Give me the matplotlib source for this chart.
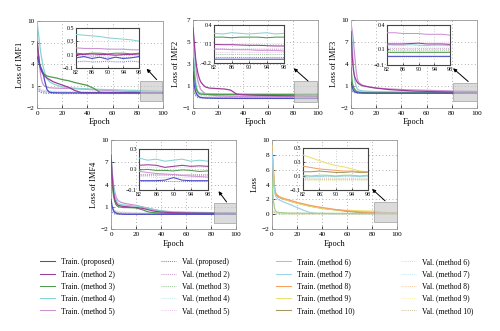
import matplotlib
matplotlib.use('Agg')
import matplotlib.pyplot as plt
from matplotlib.patches import Rectangle

plt.rcParams['font.family'] = ['Liberation Serif', 'DejaVu Serif']

epochs = [0, 1, 2, 3, 4, 5, 6, 8, 10, 13, 16, 20, 25, 30, 35, 40, 45, 50, 60, 70, 80,
          82, 84, 86, 88, 90, 92, 94, 96, 98, 100]

names = ['proposed', 'method 2', 'method 3', 'method 4', 'method 5',
         'method 6', 'method 7', 'method 8', 'method 9', 'method 10']
train_colors = ['#4b4bc3', '#9b3c97', '#4f9a4f', '#86d3d3', '#cf93d3',
                '#9fd48a', '#9fd3ea', '#f4a063', '#ece070', '#a3965e']
val_colors = ['#7f7fdc', '#c79cc6', '#9cc79c', '#c9ecec', '#ecc9ef',
              '#cdeac0', '#cfe9f5', '#f9cfae', '#f6efb5', '#cdc5a5']

# IMF1: proposed, method 2..5
imf1_train = [
    [5.1, 4.6, 4.0, 3.6, 3.2, 2.7, 1.8, 0.5, 0.15, 0.09, 0.08, 0.07, 0.07, 0.07, 0.06, 0.06, 0.06, 0.06, 0.05, 0.05, 0.05,
     0.05, 0.07, 0.04, 0.06, 0.03, 0.06, 0.04, 0.05, 0.07, 0.04],
    [7.1, 5.5, 4.0, 3.3, 2.9, 2.6, 2.4, 2.1, 1.9, 1.6, 1.4, 1.15, 0.85, 0.4, 0.12, 0.11, 0.11, 0.11, 0.1, 0.1, 0.1,
     0.10, 0.10, 0.11, 0.10, 0.10, 0.09, 0.10, 0.10, 0.11, 0.10],
    [7.0, 5.5, 4.2, 3.4, 3.0, 2.8, 2.6, 2.4, 2.3, 2.2, 2.1, 1.9, 1.75, 1.5, 1.3, 1.1, 0.7, 0.15, 0.13, 0.12, 0.12,
     0.12, 0.11, 0.12, 0.12, 0.11, 0.12, 0.12, 0.11, 0.12, 0.11],
    [10.0, 8.5, 7.0, 5.6, 4.5, 3.6, 2.9, 2.0, 1.6, 1.3, 1.1, 0.9, 0.8, 0.72, 0.66, 0.62, 0.58, 0.55, 0.5, 0.45, 0.41,
     0.40, 0.39, 0.38, 0.37, 0.35, 0.34, 0.33, 0.32, 0.30, 0.29],
    [8.3, 6.0, 3.8, 2.4, 1.6, 1.2, 1.0, 0.85, 0.78, 0.74, 0.72, 0.7, 0.68, 0.65, 0.6, 0.55, 0.5, 0.45, 0.38, 0.3, 0.22,
     0.20, 0.19, 0.19, 0.19, 0.18, 0.18, 0.18, 0.17, 0.17, 0.16],
]
imf1_val = [
    [0.6, 0.4, 0.25, 0.15, 0.1, 0.06, 0.04, 0.02, 0.01, 0.0, 0.0, -0.01, -0.01, -0.01, -0.01, -0.01, -0.01, -0.01, -0.01, -0.01, -0.01,
     -0.01, 0.0, -0.01, -0.01, 0.0, -0.01, -0.01, 0.0, -0.01, -0.01],
    [0.9, 0.7, 0.5, 0.4, 0.32, 0.27, 0.24, 0.2, 0.17, 0.15, 0.13, 0.12, 0.11, 0.1, 0.09, 0.08, 0.08, 0.07, 0.07, 0.07, 0.06,
     0.06, 0.06, 0.07, 0.06, 0.06, 0.06, 0.05, 0.06, 0.06, 0.05],
    [0.7, 0.55, 0.45, 0.38, 0.33, 0.3, 0.28, 0.25, 0.23, 0.21, 0.19, 0.17, 0.15, 0.14, 0.13, 0.12, 0.11, 0.1, 0.1, 0.1, 0.09,
     0.09, 0.1, 0.09, 0.09, 0.1, 0.09, 0.09, 0.1, 0.09, 0.09],
    [1.2, 0.9, 0.7, 0.6, 0.52, 0.47, 0.44, 0.4, 0.37, 0.34, 0.32, 0.3, 0.28, 0.27, 0.26, 0.25, 0.24, 0.23, 0.22, 0.21, 0.2,
     0.2, 0.2, 0.19, 0.19, 0.19, 0.18, 0.18, 0.18, 0.17, 0.17],
    [1.0, 0.8, 0.6, 0.48, 0.4, 0.35, 0.31, 0.27, 0.24, 0.21, 0.19, 0.17, 0.16, 0.15, 0.14, 0.13, 0.13, 0.12, 0.12, 0.11, 0.11,
     0.11, 0.11, 0.11, 0.1, 0.1, 0.1, 0.1, 0.1, 0.1, 0.1],
]

# IMF2
imf2_train = [
    [2.3, 1.0, 0.5, 0.25, 0.1, 0.0, -0.05, -0.08, -0.1, -0.11, -0.12, -0.13, -0.13, -0.13, -0.14, -0.14, -0.14, -0.14, -0.14, -0.14, -0.14,
     -0.14, -0.14, -0.14, -0.14, -0.14, -0.14, -0.14, -0.14, -0.14, -0.14],
    [6.3, 5.0, 3.6, 2.7, 2.1, 1.7, 1.4, 1.1, 0.9, 0.8, 0.78, 0.75, 0.72, 0.62, 0.25, 0.2, 0.17, 0.15, 0.13, 0.11, 0.1,
     0.095, 0.09, 0.09, 0.085, 0.08, 0.08, 0.075, 0.07, 0.07, 0.065],
    [3.5, 2.0, 1.0, 0.6, 0.4, 0.3, 0.26, 0.24, 0.23, 0.22, 0.22, 0.21, 0.21, 0.21, 0.21, 0.21, 0.21, 0.21, 0.21, 0.21, 0.21,
     0.21, 0.21, 0.20, 0.21, 0.21, 0.21, 0.20, 0.21, 0.21, 0.21],
    [5.2, 3.0, 1.5, 0.8, 0.5, 0.4, 0.35, 0.32, 0.3, 0.3, 0.29, 0.29, 0.28, 0.28, 0.28, 0.28, 0.27, 0.27, 0.27, 0.27, 0.27,
     0.27, 0.26, 0.28, 0.27, 0.26, 0.27, 0.28, 0.26, 0.27, 0.28],
    [6.0, 4.5, 3.0, 2.0, 1.4, 1.0, 0.7, 0.45, 0.3, 0.2, 0.15, 0.1, 0.08, 0.06, 0.05, 0.04, 0.03, 0.03, 0.02, 0.02, 0.02,
     0.02, 0.02, 0.01, 0.01, 0.01, 0.0, 0.0, 0.0, -0.01, -0.01],
]
imf2_val = [
    [0.8, 0.4, 0.15, 0.0, -0.05, -0.07, -0.08, -0.09, -0.09, -0.1, -0.1, -0.1, -0.1, -0.1, -0.1, -0.1, -0.1, -0.1, -0.1, -0.1, -0.1,
     -0.1, -0.1, -0.1, -0.1, -0.1, -0.1, -0.1, -0.1, -0.1, -0.1],
    [1.5, 1.0, 0.6, 0.4, 0.3, 0.22, 0.18, 0.14, 0.11, 0.09, 0.07, 0.06, 0.05, 0.04, 0.04, 0.03, 0.03, 0.03, 0.03, 0.02, 0.02,
     0.02, 0.02, 0.02, 0.02, 0.02, 0.02, 0.02, 0.02, 0.02, 0.02],
    [0.9, 0.5, 0.25, 0.1, 0.02, -0.02, -0.04, -0.05, -0.05, -0.06, -0.06, -0.06, -0.06, -0.06, -0.06, -0.06, -0.06, -0.06, -0.06, -0.06, -0.06,
     -0.06, -0.06, -0.06, -0.06, -0.06, -0.06, -0.06, -0.06, -0.06, -0.06],
    [1.2, 0.7, 0.4, 0.25, 0.18, 0.15, 0.13, 0.12, 0.12, 0.11, 0.11, 0.11, 0.11, 0.11, 0.11, 0.11, 0.11, 0.11, 0.11, 0.11, 0.11,
     0.11, 0.11, 0.11, 0.11, 0.11, 0.11, 0.11, 0.11, 0.11, 0.11],
    [1.3, 0.8, 0.45, 0.25, 0.12, 0.05, 0.0, -0.02, -0.03, -0.03, -0.03, -0.03, -0.03, -0.03, -0.03, -0.03, -0.03, -0.03, -0.03, -0.03, -0.03,
     -0.03, -0.03, -0.03, -0.03, -0.03, -0.03, -0.03, -0.03, -0.03, -0.03],
]

# IMF3
imf3_train = [
    [1.5, 0.8, 0.4, 0.2, 0.12, 0.08, 0.05, 0.03, 0.02, 0.01, 0.01, 0.005, 0.005, 0.005, 0.005, 0.005, 0.005, 0.005, 0.005, 0.005, 0.005,
     0.005, 0.005, 0.005, 0.005, 0.005, 0.005, 0.005, 0.005, 0.005, 0.005],
    [8.4, 5.0, 3.0, 2.2, 1.8, 1.5, 1.3, 1.1, 1.0, 0.9, 0.8, 0.7, 0.6, 0.5, 0.45, 0.4, 0.35, 0.3, 0.25, 0.2, 0.17,
     0.16, 0.16, 0.16, 0.165, 0.17, 0.16, 0.16, 0.16, 0.155, 0.155],
    [3.5, 1.5, 0.8, 0.5, 0.3, 0.2, 0.15, 0.1, 0.08, 0.07, 0.065, 0.06, 0.06, 0.06, 0.055, 0.055, 0.055, 0.055, 0.055, 0.055, 0.055,
     0.055, 0.055, 0.055, 0.055, 0.055, 0.055, 0.055, 0.055, 0.055, 0.055],
    [10.0, 6.5, 3.5, 1.8, 1.0, 0.6, 0.45, 0.35, 0.3, 0.27, 0.25, 0.22, 0.2, 0.19, 0.18, 0.17, 0.16, 0.16, 0.15, 0.15, 0.15,
     0.15, 0.145, 0.145, 0.15, 0.145, 0.14, 0.145, 0.145, 0.14, 0.14],
    [9.5, 8.5, 7.0, 5.0, 3.2, 2.0, 1.5, 1.2, 1.0, 0.9, 0.8, 0.7, 0.65, 0.6, 0.55, 0.5, 0.47, 0.45, 0.4, 0.36, 0.32,
     0.30, 0.30, 0.29, 0.29, 0.29, 0.28, 0.28, 0.28, 0.27, 0.27],
]
imf3_val = [
    [0.6, 0.3, 0.15, 0.08, 0.05, 0.03, 0.02, 0.01, 0.0, 0.0, 0.0, 0.0, 0.0, 0.0, 0.0, 0.0, 0.0, 0.0, 0.0, 0.0, 0.0,
     0.0, 0.0, 0.0, 0.0, 0.0, 0.0, 0.0, 0.0, 0.0, 0.0],
    [1.0, 0.6, 0.4, 0.3, 0.25, 0.22, 0.2, 0.18, 0.16, 0.15, 0.14, 0.13, 0.12, 0.12, 0.11, 0.11, 0.11, 0.1, 0.1, 0.1, 0.1,
     0.1, 0.1, 0.1, 0.1, 0.1, 0.1, 0.1, 0.1, 0.1, 0.1],
    [0.8, 0.4, 0.2, 0.12, 0.09, 0.08, 0.08, 0.075, 0.075, 0.075, 0.075, 0.075, 0.075, 0.075, 0.075, 0.075, 0.075, 0.075, 0.075, 0.075, 0.075,
     0.075, 0.075, 0.075, 0.075, 0.075, 0.075, 0.075, 0.075, 0.075, 0.075],
    [1.5, 0.8, 0.45, 0.3, 0.22, 0.18, 0.16, 0.15, 0.14, 0.13, 0.13, 0.12, 0.12, 0.12, 0.12, 0.12, 0.12, 0.12, 0.12, 0.12, 0.12,
     0.12, 0.12, 0.12, 0.12, 0.12, 0.12, 0.12, 0.12, 0.12, 0.12],
    [1.8, 1.2, 0.8, 0.55, 0.42, 0.35, 0.31, 0.28, 0.26, 0.24, 0.23, 0.22, 0.21, 0.2, 0.2, 0.19, 0.19, 0.19, 0.18, 0.18, 0.18,
     0.18, 0.18, 0.18, 0.18, 0.18, 0.18, 0.18, 0.18, 0.18, 0.18],
]

# IMF4
imf4_train = [
    [2.0, 1.0, 0.5, 0.25, 0.15, 0.1, 0.05, 0.02, 0.0, -0.01, -0.01, -0.01, -0.01, -0.01, -0.01, -0.01, -0.01, -0.01, -0.01, -0.01, -0.01,
     -0.01, -0.01, -0.01, -0.005, 0.02, -0.005, -0.01, -0.01, -0.01, -0.01],
    [8.0, 5.0, 3.0, 2.0, 1.6, 1.3, 1.2, 1.1, 1.05, 1.0, 0.95, 0.9, 0.8, 0.6, 0.4, 0.3, 0.25, 0.2, 0.17, 0.15, 0.14,
     0.14, 0.145, 0.14, 0.12, 0.13, 0.14, 0.13, 0.135, 0.13, 0.12],
    [7.0, 4.0, 2.5, 1.7, 1.3, 1.1, 1.0, 0.95, 0.9, 0.9, 0.88, 0.85, 0.6, 0.3, 0.2, 0.15, 0.13, 0.12, 0.11, 0.1, 0.095,
     0.095, 0.1, 0.09, 0.09, 0.085, 0.095, 0.09, 0.08, 0.085, 0.08],
    [8.3, 5.5, 3.8, 2.6, 2.0, 1.6, 1.4, 1.3, 1.25, 1.2, 1.15, 1.1, 0.95, 0.8, 0.6, 0.45, 0.38, 0.33, 0.28, 0.25, 0.22,
     0.21, 0.19, 0.2, 0.18, 0.19, 0.2, 0.18, 0.19, 0.18, 0.18],
    [7.5, 5.5, 4.0, 3.0, 2.4, 2.0, 1.8, 1.6, 1.5, 1.4, 1.3, 1.2, 1.0, 0.8, 0.6, 0.45, 0.35, 0.28, 0.2, 0.14, 0.09,
     0.08, 0.07, 0.06, 0.055, 0.05, 0.04, 0.035, 0.03, 0.025, 0.02],
]
imf4_val = [
    [0.6, 0.3, 0.12, 0.04, 0.0, -0.01, -0.01, -0.01, -0.01, -0.01, -0.01, -0.01, -0.01, -0.01, -0.01, -0.01, -0.01, -0.01, -0.01, -0.01, -0.01,
     -0.01, -0.01, -0.01, -0.01, -0.01, -0.01, -0.01, -0.01, -0.01, -0.01],
    [1.2, 0.8, 0.55, 0.4, 0.32, 0.27, 0.24, 0.2, 0.18, 0.16, 0.14, 0.12, 0.1, 0.09, 0.08, 0.07, 0.07, 0.06, 0.06, 0.06, 0.05,
     0.05, 0.05, 0.05, 0.05, 0.05, 0.05, 0.05, 0.05, 0.05, 0.05],
    [1.0, 0.6, 0.4, 0.3, 0.24, 0.2, 0.18, 0.15, 0.13, 0.11, 0.1, 0.09, 0.08, 0.07, 0.06, 0.06, 0.05, 0.05, 0.05, 0.05, 0.04,
     0.04, 0.04, 0.04, 0.04, 0.04, 0.04, 0.04, 0.04, 0.04, 0.04],
    [1.5, 1.0, 0.7, 0.55, 0.45, 0.4, 0.36, 0.32, 0.3, 0.28, 0.26, 0.24, 0.22, 0.2, 0.18, 0.16, 0.15, 0.14, 0.13, 0.12, 0.12,
     0.12, 0.12, 0.12, 0.12, 0.12, 0.12, 0.12, 0.12, 0.12, 0.12],
    [1.4, 0.9, 0.65, 0.5, 0.4, 0.35, 0.3, 0.27, 0.24, 0.21, 0.19, 0.17, 0.15, 0.13, 0.11, 0.09, 0.08, 0.07, 0.05, 0.04, 0.03,
     0.03, 0.03, 0.02, 0.02, 0.02, 0.02, 0.02, 0.02, 0.02, 0.02],
]

# total loss: method 6..10
loss_train = [
    [4.8, 2.0, 0.8, 0.4, 0.3, 0.25, 0.22, 0.2, 0.18, 0.16, 0.15, 0.14, 0.13, 0.12, 0.12, 0.11, 0.11, 0.1, 0.1, 0.1, 0.1,
     0.11, 0.1, 0.11, 0.11, 0.1, 0.11, 0.11, 0.1, 0.11, 0.11],
    [8.5, 5.5, 3.0, 2.4, 2.2, 2.0, 1.9, 1.75, 1.6, 1.4, 1.2, 0.9, 0.55, 0.25, 0.12, 0.1, 0.09, 0.09, 0.09, 0.08, 0.08,
     0.08, 0.09, 0.09, 0.1, 0.09, 0.1, 0.1, 0.09, 0.1, 0.1],
    [9.0, 6.0, 3.5, 2.8, 2.6, 2.45, 2.35, 2.2, 2.1, 1.95, 1.8, 1.6, 1.4, 1.2, 1.05, 0.9, 0.78, 0.65, 0.45, 0.3, 0.25,
     0.24, 0.22, 0.20, 0.19, 0.18, 0.17, 0.17, 0.16, 0.16, 0.15],
    [9.2, 6.5, 3.8, 2.9, 2.6, 2.45, 2.3, 2.15, 2.0, 1.85, 1.7, 1.5, 1.3, 1.1, 0.95, 0.8, 0.7, 0.6, 0.52, 0.46, 0.42,
     0.40, 0.36, 0.32, 0.28, 0.25, 0.23, 0.20, 0.17, 0.16, 0.17],
    [8.8, 6.0, 3.5, 2.7, 2.5, 2.35, 2.25, 2.1, 2.0, 1.85, 1.7, 1.5, 1.3, 1.1, 0.95, 0.8, 0.7, 0.6, 0.4, 0.25, 0.17,
     0.16, 0.16, 0.17, 0.16, 0.15, 0.15, 0.16, 0.15, 0.15, 0.14],
]
loss_val = [
    [0.5, 0.3, 0.15, 0.08, 0.06, 0.05, 0.05, 0.04, 0.04, 0.04, 0.04, 0.04, 0.04, 0.04, 0.04, 0.04, 0.04, 0.04, 0.04, 0.04, 0.04,
     0.04, 0.04, 0.04, 0.04, 0.04, 0.04, 0.04, 0.04, 0.04, 0.04],
    [0.6, 0.35, 0.2, 0.12, 0.1, 0.09, 0.08, 0.08, 0.07, 0.07, 0.07, 0.07, 0.06, 0.06, 0.06, 0.06, 0.06, 0.06, 0.06, 0.06, 0.06,
     0.06, 0.06, 0.06, 0.06, 0.06, 0.06, 0.06, 0.06, 0.06, 0.06],
    [0.7, 0.5, 0.35, 0.25, 0.2, 0.17, 0.15, 0.13, 0.12, 0.11, 0.1, 0.1, 0.09, 0.09, 0.08, 0.08, 0.08, 0.08, 0.07, 0.07, 0.07,
     0.07, 0.07, 0.07, 0.07, 0.07, 0.07, 0.07, 0.07, 0.07, 0.07],
    [0.6, 0.45, 0.3, 0.2, 0.15, 0.12, 0.1, 0.08, 0.07, 0.06, 0.05, 0.05, 0.04, 0.04, 0.04, 0.03, 0.03, 0.03, 0.03, 0.03, 0.03,
     0.03, 0.03, 0.03, 0.03, 0.03, 0.03, 0.03, 0.03, 0.03, 0.03],
    [0.5, 0.35, 0.25, 0.18, 0.14, 0.12, 0.1, 0.09, 0.08, 0.07, 0.07, 0.06, 0.06, 0.06, 0.05, 0.05, 0.05, 0.05, 0.05, 0.05, 0.05,
     0.05, 0.05, 0.05, 0.05, 0.05, 0.05, 0.05, 0.05, 0.05, 0.05],
]

fig = plt.figure(figsize=(5, 3.31), dpi=100)

# panel layout: axes rect, inset rect (axes fraction), zoom box, arrow head/tail
panels = [
    dict(rect=[0.074, 0.674, 0.252, 0.263], train=imf1_train, val=imf1_val, m0=0,
         ylim=(-2, 10), yticks=[-2, 1, 4, 7, 10], ylabel='Loss of IMF1',
         inset=[0.31, 0.46, 0.5, 0.46], in_ylim=(-0.1, 0.5), in_yticks=[-0.1, 0.1, 0.3, 0.5],
         box=(82, -1.05, 17.5, 2.7), head=(87, 3.4), tail=(95, 1.9)),
    dict(rect=[0.386, 0.674, 0.25, 0.266], train=imf2_train, val=imf2_val, m0=0,
         ylim=(-1, 7), yticks=[-1, 1, 3, 5, 7], ylabel='Loss of IMF2',
         inset=[0.168, 0.51, 0.56, 0.43], in_ylim=(-0.2, 0.4), in_yticks=[-0.2, 0.1, 0.4],
         box=(80.5, -0.5, 19, 1.9), head=(80.5, 2.6), tail=(92, 1.45)),
    dict(rect=[0.702, 0.674, 0.252, 0.266], train=imf3_train, val=imf3_val, m0=0,
         ylim=(-2, 10), yticks=[-2, 1, 4, 7, 10], ylabel='Loss of IMF3',
         inset=[0.286, 0.49, 0.5, 0.455], in_ylim=(-0.1, 0.4), in_yticks=[-0.1, 0.1, 0.4],
         box=(81, -1.0, 18.7, 2.45), head=(81, 3.4), tail=(93, 1.6)),
    dict(rect=[0.222, 0.308, 0.25, 0.269], train=imf4_train, val=imf4_val, m0=0,
         ylim=(-2, 10), yticks=[-2, 1, 4, 7, 10], ylabel='Loss of IMF4',
         inset=[0.224, 0.44, 0.552, 0.46], in_ylim=(-0.1, 0.3), in_yticks=[-0.1, 0.1, 0.3],
         box=(82, -1.2, 17.8, 2.75), head=(86, 3.1), tail=(92.5, 1.65)),
    dict(rect=[0.544, 0.308, 0.25, 0.269], train=loss_train, val=loss_val, m0=5,
         ylim=(-2, 10), yticks=[-2, 0, 2, 4, 6, 8, 10], ylabel='Loss',
         inset=[0.248, 0.44, 0.52, 0.47], in_ylim=(-0.1, 0.5), in_yticks=[-0.1, 0.1, 0.3, 0.5],
         box=(81.6, -1.1, 18, 2.7), head=(80, 3.4), tail=(90.5, 1.8)),
]

handles = {}

def draw_lines(ax, p, lw):
    m0 = p['m0']
    for k, vals in enumerate(p['val']):
        m = m0 + k
        h, = ax.plot(epochs, vals, color=val_colors[m], lw=lw, ls=(0, (1, 1)),
                     label='Val. (%s)' % names[m], zorder=2)
        handles['v%d' % m] = h
    # proposed drawn last so it stays on top
    order = list(range(len(p['train'])))[::-1]
    for k in order:
        m = m0 + k
        h, = ax.plot(epochs, p['train'][k], color=train_colors[m], lw=lw,
                     label='Train. (%s)' % names[m], zorder=3)
        handles['t%d' % m] = h


for p in panels:
    ax = fig.add_axes(p['rect'])
    draw_lines(ax, p, 0.9)
    ax.set_xlim(0, 100)
    ax.set_ylim(*p['ylim'])
    ax.set_xticks([0, 20, 40, 60, 80, 100])
    ax.set_yticks(p['yticks'])
    ax.grid(True, ls=(0, (1, 3)), color='#999999', lw=0.6)
    ax.tick_params(labelsize=5.2, length=2, width=0.5, direction='in', pad=2)
    for s in ax.spines.values():
        s.set_color('#999999')
        s.set_linewidth(0.6)
    ax.set_xlabel('Epoch', fontsize=6, labelpad=2)
    ax.set_ylabel(p['ylabel'], fontsize=6, labelpad=2)

    bx, by, bw, bh = p['box']
    ax.add_patch(Rectangle((bx, by), bw, bh, facecolor='#c8c8c8', alpha=0.65,
                           edgecolor='#888888', lw=0.6, zorder=4))
    ax.annotate('', xy=p['head'], xytext=p['tail'],
                arrowprops=dict(arrowstyle='-|>', color='black', lw=0.7,
                                mutation_scale=5, shrinkA=0, shrinkB=0), zorder=5)

    ins = ax.inset_axes(p['inset'])
    draw_lines(ins, p, 0.75)
    ins.set_xlim(82, 98)
    ins.set_ylim(*p['in_ylim'])
    ins.set_xticks([82, 86, 90, 94, 98])
    ins.set_yticks(p['in_yticks'])
    ins.grid(True, ls=(0, (1, 3)), color='#999999', lw=0.5)
    ins.tick_params(labelsize=4.3, length=1.5, width=0.5, direction='in', pad=1.5)
    for s in ins.spines.values():
        s.set_color('#444444')
        s.set_linewidth(0.8)
    ins.set_facecolor('white')
    ins.set_zorder(6)

keys = ['t%d' % i for i in range(5)] + ['v%d' % i for i in range(5)] + \
       ['t%d' % i for i in range(5, 10)] + ['v%d' % i for i in range(5, 10)]
leg_handles = [handles[k] for k in keys]
fig.legend(leg_handles, [h.get_label() for h in leg_handles], ncol=4,
           loc='upper center', bbox_to_anchor=(0.513, 0.232), frameon=False,
           fontsize=5.5, handlelength=2.0, handletextpad=0.8, columnspacing=6.0,
           labelspacing=0.55, borderpad=0)

fig.savefig('out.png', dpi=100)
